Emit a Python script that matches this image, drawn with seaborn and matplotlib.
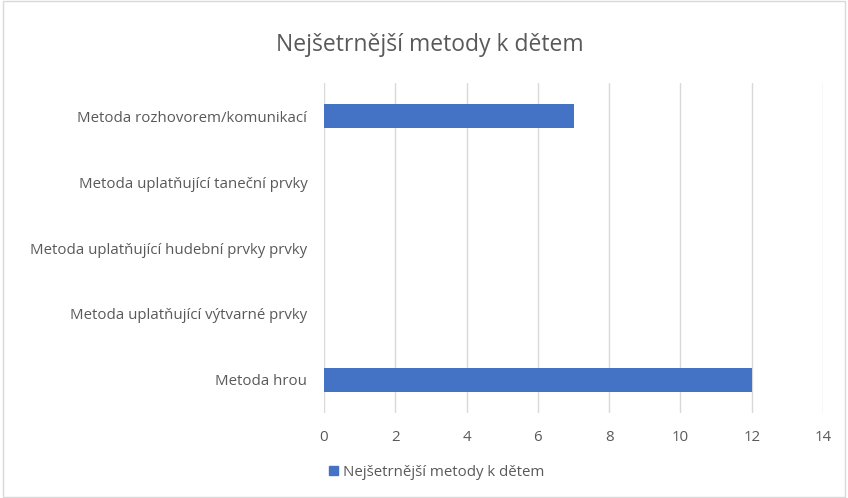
import matplotlib
matplotlib.use("Agg")
import matplotlib.pyplot as plt
import seaborn as sns
import pandas as pd
from matplotlib.patches import Rectangle

categories = [
    "Metoda rozhovorem/komunikací",
    "Metoda uplatňující taneční prvky",
    "Metoda uplatňující hudební prvky prvky",
    "Metoda uplatňující výtvarné prvky",
    "Metoda hrou",
]
values = [7, 0, 0, 0, 12]
series_name = "Nejšetrnější metody k dětem"
x_ticks = [0, 2, 4, 6, 8, 10, 12, 14]

sns.set_theme(style="white")
plt.rcParams['font.family'] = ['Open Sans', 'DejaVu Sans']

df = pd.DataFrame({"cat": categories, "val": values})

fig = plt.figure(figsize=(8.48, 4.98), dpi=100)
ax = fig.add_axes([0.382, 0.1707, 0.5886, 0.6626])

sns.barplot(data=df, y="cat", x="val", orient="h", color="#4472C4",
            width=0.36, saturation=1, ax=ax, label=series_name, zorder=3,
            linewidth=0)

ax.set_xlim(0, 14)
ax.set_xticks(x_ticks)
ax.set_ylim(4.5, -0.5)
ax.set_xlabel("")
ax.set_ylabel("")
for s in ax.spines.values():
    s.set_visible(False)
ax.grid(axis="x", color="#D9D9D9", linewidth=1, zorder=0)
ax.grid(axis="y", visible=False)
ax.tick_params(axis="both", length=0, labelcolor="#595959", labelsize=10.8)
ax.tick_params(axis="y", pad=12)
ax.tick_params(axis="x", pad=12)
if ax.get_legend():
    ax.get_legend().remove()

fig.text(0.507, 0.91, series_name, ha="center", va="center", fontsize=16.5, color="#595959")

handle = Rectangle((0, 0), 1, 1, color="#4472C4")
fig.legend([handle], [series_name], loc="center", bbox_to_anchor=(0.515, 0.052),
           frameon=False, fontsize=10.8, labelcolor="#595959",
           handlelength=0.6, handleheight=0.6, handletextpad=0.3)

border = Rectangle((0.003, 0.003), 0.994, 0.994, transform=fig.transFigure,
                   fill=False, edgecolor="#D9D9D9", linewidth=1)
fig.patches.append(border)

fig.savefig("out.png", dpi=100, facecolor="white")
